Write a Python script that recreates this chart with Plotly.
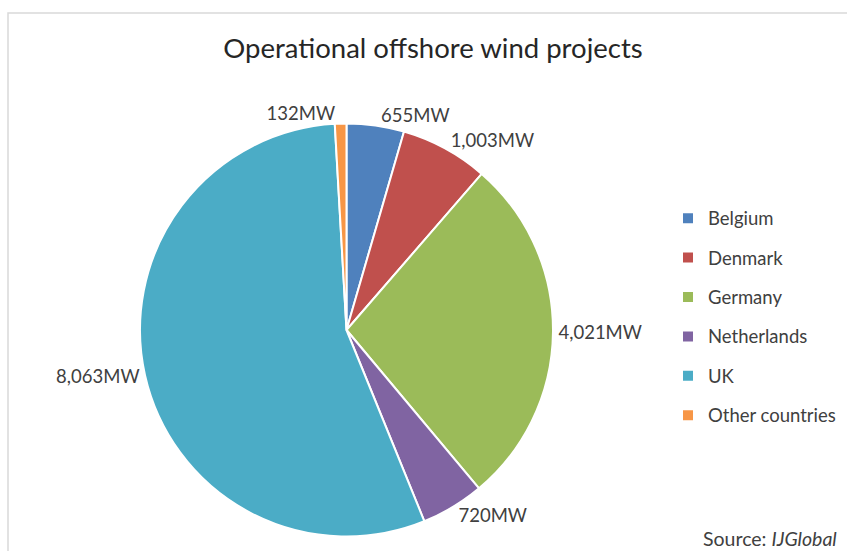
import plotly.graph_objects as go

countries = ["Belgium", "Denmark", "Germany", "Netherlands", "UK", "Other countries"]
capacity_mw = [655, 1003, 4021, 720, 8063, 132]
colors = ["#4F81BD", "#C0504D", "#9BBB59", "#8064A2", "#4BACC6", "#F79646"]

FONT = "Lato"
TXT = "#404040"

legend_labels = ['<span style="font-size:18.5px;baseline-shift:4px">%s</span>' % c for c in countries]

fig = go.Figure(go.Pie(
    labels=legend_labels,
    values=capacity_mw,
    sort=False,
    direction="clockwise",
    rotation=0,
    marker=dict(colors=colors, line=dict(color="white", width=2)),
    textposition="outside",
    texttemplate="%{value:,}MW",
    textfont=dict(family=FONT, size=18.5, color=TXT),
    domain=dict(x=[140/847, 553/847], y=[1-537/551, 1-123/551]),
    hoverinfo="skip",
))

fig.update_layout(
    width=847, height=551,
    margin=dict(l=0, r=0, t=0, b=0),
    paper_bgcolor="white",
    title=dict(text="Operational offshore wind projects", x=433/847, xanchor="center",
               y=1-48/551, yanchor="middle", font=dict(family=FONT, size=27.5, color="#262626")),
    legend=dict(x=668/847, xanchor="left", y=1-317/551, yanchor="middle",
                font=dict(family=FONT, size=28, color=TXT), bgcolor="rgba(0,0,0,0)"),
    showlegend=True,
    shapes=[dict(type="rect", xref="paper", yref="paper", x0=8/847, x1=1.05, y0=-0.05, y1=1-13/551,
                 line=dict(color="#D9D9D9", width=1.5), fillcolor="rgba(0,0,0,0)")],
    annotations=[dict(text="Source: <i>IJGlobal</i>", xref="paper", yref="paper",
                      x=839/847, xanchor="right", y=1-538/551, yanchor="middle", showarrow=False,
                      font=dict(family=FONT, size=19.5, color=TXT))],
)

fig.write_html("out.html")
